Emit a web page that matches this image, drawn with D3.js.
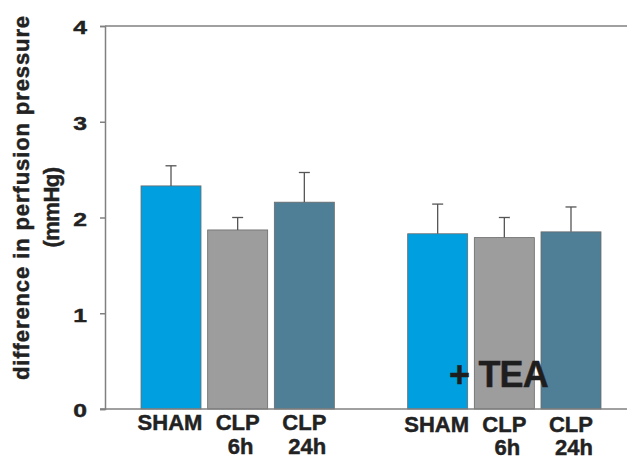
<!DOCTYPE html>
<html>
<head>
<meta charset="utf-8">
<script src="https://cdn.jsdelivr.net/npm/d3@7"></script>
<style>
  html, body { margin: 0; padding: 0; background: #fff; }
  svg { display: block; font-family: "Liberation Sans", Arial, sans-serif; }
  .heavy { stroke: #222; stroke-width: 0.45px; }
</style>
</head>
<body>
<svg id="chart" width="627" height="459"></svg>
<script>
// ---- data ----
const slots = ["g1_SHAM", "g1_CLP6", "g1_CLP24", "gap", "g2_SHAM", "g2_CLP6", "g2_CLP24"];
const barKeys = ["g1_SHAM", "g1_CLP6", "g1_CLP24", "g2_SHAM", "g2_CLP6", "g2_CLP24"];
const groups = ["SHAM", "CLP 6h", "CLP 24h", "SHAM", "CLP 6h", "CLP 24h"];
const labelLine1 = ["SHAM", "CLP", "CLP", "SHAM", "CLP", "CLP"];
const labelLine2 = ["", "6h", "24h", "", "6h", "24h"];
const means = [2.33, 1.87, 2.16, 1.83, 1.79, 1.85];
const errors = [0.21, 0.13, 0.31, 0.31, 0.21, 0.26];
const yTicks = [0, 1, 2, 3, 4];
const colorMap = { "SHAM": "#009fe0", "CLP 6h": "#9d9d9d", "CLP 24h": "#4e7f97" };

const svg = d3.select("#chart");

const y = d3.scaleLinear().domain([0, 4]).range([409, 26]);
const x = d3.scaleBand().domain(slots).range([137.67, 604.33])
  .paddingInner(0.1).paddingOuter(0.05);

const axisColor = "#808080";

// top frame line
svg.append("line")
  .attr("x1", 105).attr("x2", 627)
  .attr("y1", y(4)).attr("y2", y(4))
  .attr("stroke", axisColor).attr("stroke-width", 1.5);

// bars
const bars = barKeys.map((k, i) => ({ key: k, group: groups[i], mean: means[i], err: errors[i], l1: labelLine1[i], l2: labelLine2[i], idx: i }));

svg.append("g").selectAll("rect").data(bars).join("rect")
  .attr("x", d => x(d.key))
  .attr("y", d => y(d.mean))
  .attr("width", x.bandwidth())
  .attr("height", d => y(0) - y(d.mean))
  .attr("fill", d => colorMap[d.group])
  .attr("stroke", "#6a6a6a")
  .attr("stroke-width", 0.8);

// error bars (upper only)
const eg = svg.append("g").attr("stroke", "#555").attr("stroke-width", 1.3);
eg.selectAll("line.v").data(bars).join("line").attr("class", "v")
  .attr("x1", d => x(d.key) + x.bandwidth() / 2)
  .attr("x2", d => x(d.key) + x.bandwidth() / 2)
  .attr("y1", d => y(d.mean))
  .attr("y2", d => y(d.mean + d.err));
eg.selectAll("line.c").data(bars).join("line").attr("class", "c")
  .attr("x1", d => x(d.key) + x.bandwidth() / 2 - 5.5)
  .attr("x2", d => x(d.key) + x.bandwidth() / 2 + 5.5)
  .attr("y1", d => y(d.mean + d.err))
  .attr("y2", d => y(d.mean + d.err));

// y axis
const yAxis = svg.append("g")
  .attr("transform", "translate(105,0)")
  .call(d3.axisLeft(y).tickValues(yTicks).tickSize(5).tickPadding(6).tickFormat(d3.format("d")));
yAxis.select(".domain").attr("stroke", axisColor).attr("stroke-width", 1.5);
yAxis.selectAll(".tick line").attr("stroke", axisColor).attr("stroke-width", 1.5);
yAxis.selectAll(".tick text")
  .attr("class", "heavy")
  .attr("fill", "#222")
  .style("font-size", "19px")
  .style("font-weight", "bold")
  .attr("x", null)
  .attr("dy", "0.42em")
  .attr("transform", "translate(-18,0) scale(1.3,1)");

// baseline
svg.append("line")
  .attr("x1", 100).attr("x2", 627)
  .attr("y1", y(0)).attr("y2", y(0))
  .attr("stroke", axisColor).attr("stroke-width", 1.5);

// x labels
const lg = svg.append("g").attr("class", "heavy").attr("fill", "#222")
  .style("font-size", "22px").style("font-weight", "bold")
  .attr("text-anchor", "middle");
lg.selectAll("text.l1").data(bars).join("text").attr("class", "l1")
  .attr("x", d => x(d.key) + x.bandwidth() / 2 - (d.idx === 0 || d.idx === 3 ? 1 : 0))
  .attr("y", d => d.idx < 3 ? 430 : 432)
  .text(d => d.l1);
lg.selectAll("text.l2").data(bars.filter(d => d.l2)).join("text").attr("class", "l2")
  .attr("x", d => x(d.key) + x.bandwidth() / 2 + 3)
  .attr("y", d => d.idx < 3 ? 454 : 455)
  .text(d => d.l2);

// y title
svg.append("text")
  .attr("class", "heavy")
  .attr("transform", "translate(29,197.5) rotate(-90)")
  .attr("text-anchor", "middle")
  .attr("fill", "#222")
  .style("font-size", "22px").style("font-weight", "bold")
  .style("letter-spacing", "0.9px")
  .text("difference in perfusion pressure");
svg.append("text")
  .attr("class", "heavy")
  .attr("transform", "translate(59,207.5) rotate(-90)")
  .attr("text-anchor", "middle")
  .attr("fill", "#222")
  .style("font-size", "22px").style("font-weight", "bold")
  .style("letter-spacing", "-0.5px")
  .text("(mmHg)");

// + TEA annotation
svg.append("text")
  .attr("class", "heavy")
  .attr("x", 449).attr("y", 387)
  .attr("fill", "#1e1e1e")
  .style("font-size", "36px").style("font-weight", "bold")
  .style("letter-spacing", "-0.8px")
  .text("+ TEA");
</script>
</body>
</html>
